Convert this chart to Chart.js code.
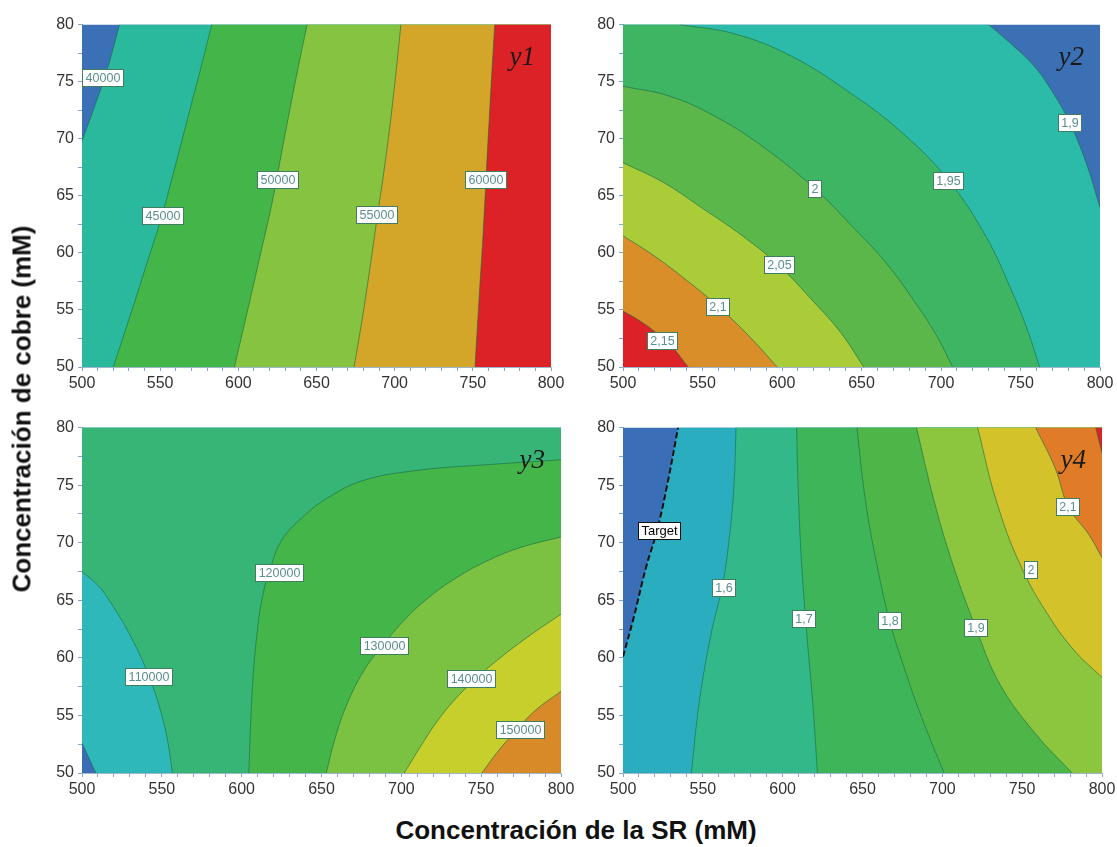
<!DOCTYPE html>
<html lang="es">
<head>
<meta charset="utf-8">
<title>Superficies de contorno y1 - y4</title>
<script src="https://cdn.jsdelivr.net/npm/chart.js@4.4.1/dist/chart.umd.min.js"></script>
<style>
  body { margin: 0; background: #fff; }
  #wrap { position: relative; width: 1117px; height: 847px; overflow: hidden;
          font-family: "Liberation Sans", Arial, sans-serif; }
  canvas { position: absolute; }
  .axtitle { position: absolute; font-weight: bold; font-size: 26px; color: #111; white-space: nowrap; }
  #ytitle { left: 22px; top: 409px; transform: translate(-50%, -50%) rotate(-90deg); }
  #xtitle { left: 576px; top: 830px; transform: translate(-50%, -50%); }
</style>
</head>
<body>
<div id="wrap">
  <canvas id="c1"></canvas>
  <canvas id="c2"></canvas>
  <canvas id="c3"></canvas>
  <canvas id="c4"></canvas>
  <div class="axtitle" id="ytitle">Concentración de cobre (mM)</div>
  <div class="axtitle" id="xtitle">Concentración de la SR (mM)</div>
</div>
<script>
// ejes comunes
const xMin = 500, xMax = 800, yMin = 50, yMax = 80;
const xTickLabels = [500, 550, 600, 650, 700, 750, 800];
const yTickLabels = [50, 55, 60, 65, 70, 75, 80];

// ---- y1 ----
const y1Colors = ['#3b6fb6', '#2bb99e', '#43b549', '#86c340', '#d3a629', '#dc2226'];
const y1Contours = [
  [[500, 69.8], [508, 72.8], [516, 76], [524, 80]],
  [[520, 50], [532, 55], [542, 59.3], [551, 63.2], [560, 67.8], [568, 72], [576, 76.2], [583, 80]],
  [[597.5, 50], [606, 55], [614, 59.8], [621, 64], [627, 68.3], [633, 72.6], [638.5, 76.4], [644, 80]],
  [[674, 50], [679, 54], [684, 58.5], [689, 63.3], [694, 68], [699, 73.5], [704, 80]],
  [[751.4, 50], [754, 56], [756.5, 61.5], [758.4, 66.4], [761, 73], [764, 80]]
];
const y1Closing = [['TR', 'BR', 'BL'], ['TR', 'BR'], ['TR', 'BR'], ['TR', 'BR'], ['TR', 'BR']];
const y1Labels = ['40000', '45000', '50000', '55000', '60000'];
const y1LabelPos = [[513.5, 75.3], [551.5, 63.2], [625.4, 66.4], [688.6, 63.3], [758.4, 66.4]];

// ---- y2 ----
const y2Colors = ['#3b70b5', '#2cbaa9', '#3eb562', '#5bb749', '#a9cc38', '#d98e29', '#dc2226'];
const y2Contours = [
  [[730, 80], [745, 78.2], [759, 76.3], [771, 73.9], [781, 71.4], [791, 68], [800, 64]],
  [[536, 80], [570, 79.2], [605, 77.3], [640, 74.3], [675, 70.6], [705, 66.3], [728, 61.5], [745, 56.5], [755, 53], [762, 50]],
  [[500, 74.6], [530, 73.7], [560, 71.8], [590, 69.1], [620.8, 65.6], [645, 62.2], [665, 59.2], [683, 55.8], [697, 52.8], [707.3, 50]],
  [[500, 67.9], [525, 66.2], [550, 63.9], [575, 61.5], [598, 58.9], [620, 55.7], [637, 53], [651.4, 50]],
  [[500, 61.5], [520, 59.7], [540, 57.6], [560, 55.3], [580, 52.6], [597, 50]],
  [[500, 54.9], [510, 54.1], [520, 53.1], [530, 51.9], [541, 50]]
];
const y2Closing = [['BR', 'BL', 'TL'], ['BL', 'TL'], ['BL'], ['BL'], ['BL'], ['BL']];
const y2Labels = ['1,9', '1,95', '2', '2,05', '2,1', '2,15'];
const y2LabelPos = [[781, 71.4], [705, 66.3], [620.8, 65.6], [598.3, 58.9], [559.9, 55.3], [524.8, 52.3]];

// ---- y3 ----
const y3Colors = ['#3a6cb6', '#2fb8b9', '#37b577', '#44b548', '#7bc142', '#c6cf2b', '#d98a28'];
const y3Contours = [
  [[500, 52.6], [508.7, 50]],
  [[500, 67.5], [510, 66.3], [517, 65], [530, 62], [542.2, 58.3], [550, 55], [554, 52.5], [556.6, 50]],
  [[604.5, 50], [605.5, 54], [607, 58], [609.5, 62], [613, 65.3], [618, 67.8], [625, 70.2], [638, 72.2], [654, 73.9], [676, 75.4], [711, 76.3], [756, 76.8], [800, 77.2]],
  [[653, 50], [658.5, 53], [666, 56], [677, 59], [688, 61], [700, 63], [715, 65], [735, 67], [755, 68.5], [775, 69.6], [800, 70.5]],
  [[701.9, 50], [712, 52.3], [722, 54.4], [733, 56.3], [746, 58.1], [761, 59.9], [779, 61.8], [800, 63.8]],
  [[750.5, 50], [760, 51.8], [770, 53.4], [783.6, 55.4], [800, 57.1]]
];
const y3Closing = [['BR', 'TR', 'TL'], ['BR', 'TR', 'TL'], ['BR'], ['BR'], ['BR'], ['BR']];
const y3Labels = ['110000', '120000', '130000', '140000', '150000'];
const y3LabelPos = [[542.2, 58.3], [623.9, 67.4], [689.6, 61], [744, 58.2], [774.4, 53.7]];

// ---- y4 ---- (primera curva = Target, discontinua)
const y4Colors = ['#3a6fb8', '#2aaebf', '#33b88a', '#3fb55a', '#4eb649', '#8cc63f', '#d3c22a', '#e07b28', '#dc2226'];
const y4Contours = [
  [[500, 60.1], [506.7, 63.5], [514.5, 67.9], [521.2, 71], [527.8, 75.1], [534.5, 80]],
  [[542.8, 50], [547.9, 56.3], [555.2, 62.1], [562.4, 66.4], [566.8, 70.7], [569.5, 75], [570.8, 80]],
  [[621.8, 50], [618.7, 56.3], [615.1, 62.1], [612, 67.9], [610, 73.6], [608.7, 80]],
  [[701.1, 50], [687.1, 54.8], [676, 59.2], [667, 63.2], [659.3, 67.9], [651.9, 73.6], [646.5, 80]],
  [[781.3, 50], [758.4, 53.4], [736.1, 57.7], [721, 62.6], [707.1, 67.9], [694.9, 73.6], [683.8, 80]],
  [[722.1, 80], [733.9, 73.6], [749.4, 67.9], [767.3, 63.5], [782.9, 60.6], [800, 58.3]],
  [[758.4, 80], [770.6, 76.5], [779, 73.1], [791.8, 70.7], [800, 68.7]],
  [[796, 80], [800, 77.8]]
];
const y4Closing = [['TR', 'BR', 'BL'], ['TR', 'BR'], ['TR', 'BR'], ['TR', 'BR'], ['TR', 'BR'], ['TR'], ['TR'], ['TR']];
const y4Labels = ['Target', '1,6', '1,7', '1,8', '1,9', '2', '2,1'];
const y4LabelPos = [[522.8, 71], [563.5, 66.1], [613.6, 63.4], [667, 63.2], [721, 62.6], [755.7, 67.6], [779, 73.1]];

// cajas del área de trazado (px)
const plotBoxes = [[82, 23, 551, 367], [623, 23, 1100, 367], [82, 426, 561, 773], [623, 426, 1102, 773]];
const padL = 55, padT = 12, padR = 25, padB = 32;
const curveTension = 0.4;

function corner(k) {
  return { TL: { x: xMin, y: yMax }, TR: { x: xMax, y: yMax }, BR: { x: xMax, y: yMin }, BL: { x: xMin, y: yMin } }[k];
}
function pts(arr) { return arr.map(p => ({ x: p[0], y: p[1] })); }

// polígono: curva + esquinas; puntos repetidos para que las esquinas queden rectas con tension
function region(c, corners) {
  const line = pts(c);
  const poly = line.concat([line[line.length - 1]]);
  corners.forEach(k => { poly.push(corner(k), corner(k)); });
  return poly;
}

function labelPlugin(texts, pos, title) {
  return {
    id: 'contourLabels',
    afterDatasetsDraw(chart) {
      const ctx = chart.ctx, xs = chart.scales.x, ys = chart.scales.y, area = chart.chartArea;
      ctx.save();
      ctx.textAlign = 'center';
      ctx.textBaseline = 'middle';
      texts.forEach((t, i) => {
        const target = t === 'Target';
        ctx.font = (target ? '13px' : '12.5px') + ' "Liberation Sans", Arial, sans-serif';
        const px = xs.getPixelForValue(pos[i][0]), py = ys.getPixelForValue(pos[i][1]);
        const w = Math.round(ctx.measureText(t).width + 7), h = 18;
        const bx = Math.round(px - w / 2), by = Math.round(py - h / 2);
        ctx.fillStyle = '#fff';
        ctx.fillRect(bx, by, w, h);
        ctx.strokeStyle = target ? '#111' : '#3d7f5f';
        ctx.lineWidth = 1;
        ctx.strokeRect(bx + 0.5, by + 0.5, w - 1, h - 1);
        ctx.fillStyle = target ? '#000' : '#5b8e8e';
        ctx.fillText(t, bx + w / 2, by + h / 2 + 0.5);
      });
      ctx.font = 'italic 27px "Liberation Serif", "DejaVu Serif", serif';
      ctx.textAlign = 'right';
      ctx.textBaseline = 'alphabetic';
      ctx.fillStyle = '#1a1a1a';
      ctx.fillText(title, area.right - 16, area.top + 40);
      ctx.restore();
    }
  };
}

function makePanel(idx, colors, contours, closing, texts, pos, title, dashedFirst) {
  const [l, t, r, b] = plotBoxes[idx];
  const cv = document.getElementById('c' + (idx + 1));
  const W = (r - l) + padL + padR, H = (b - t) + padT + padB;
  cv.width = W; cv.height = H;
  cv.style.left = (l - padL) + 'px';
  cv.style.top = (t - padT) + 'px';
  cv.style.width = W + 'px';
  cv.style.height = H + 'px';

  const datasets = [];
  datasets.push({
    data: ['BL', 'TL', 'TR', 'BR'].map(corner),
    backgroundColor: colors[0], fill: 'shape', borderWidth: 0, pointRadius: 0, tension: 0, order: 100
  });
  contours.forEach((c, i) => {
    datasets.push({
      data: region(c, closing[i]),
      backgroundColor: colors[i + 1], fill: 'shape', borderWidth: 0, pointRadius: 0, order: 99 - i
    });
  });
  contours.forEach((c, i) => {
    const dashed = dashedFirst && i === 0;
    datasets.push({
      data: pts(c),
      borderColor: dashed ? '#111' : 'rgba(25,105,70,0.6)',
      borderWidth: dashed ? 2 : 1,
      borderDash: dashed ? [6, 3] : [],
      fill: false, pointRadius: 0, order: 0
    });
  });

  const tickFont = { size: 16, family: '"Liberation Sans", Arial, sans-serif' };
  new Chart(cv.getContext('2d'), {
    type: 'line',
    data: { datasets },
    options: {
      responsive: false,
      animation: false,
      devicePixelRatio: 1,
      events: [],
      layout: { padding: { left: 0, top: padT, right: padR, bottom: 0 } },
      elements: { line: { tension: curveTension } },
      plugins: { legend: { display: false }, tooltip: { enabled: false } },
      scales: {
        x: {
          type: 'linear', min: xMin, max: xMax,
          afterFit(s) { s.height = padB; },
          ticks: {
            stepSize: 10, maxTicksLimit: 100, autoSkip: false, maxRotation: 0, padding: 3,
            color: '#333', font: tickFont,
            callback: v => xTickLabels.includes(v) ? String(v) : ''
          },
          grid: { drawOnChartArea: false, tickLength: 4, color: '#7fa6cf' },
          border: { color: '#9fb6cc' }
        },
        y: {
          type: 'linear', min: yMin, max: yMax,
          afterFit(s) { s.width = padL; },
          ticks: {
            stepSize: 2.5, maxTicksLimit: 100, autoSkip: false, padding: 4,
            color: '#333', font: tickFont,
            callback: v => yTickLabels.includes(v) ? String(v) : ''
          },
          grid: { drawOnChartArea: false, tickLength: 4, color: '#7fa6cf' },
          border: { color: '#9fb6cc' }
        }
      }
    },
    plugins: [labelPlugin(texts, pos, title)]
  });
}

makePanel(0, y1Colors, y1Contours, y1Closing, y1Labels, y1LabelPos, 'y1', false);
makePanel(1, y2Colors, y2Contours, y2Closing, y2Labels, y2LabelPos, 'y2', false);
makePanel(2, y3Colors, y3Contours, y3Closing, y3Labels, y3LabelPos, 'y3', false);
makePanel(3, y4Colors, y4Contours, y4Closing, y4Labels, y4LabelPos, 'y4', true);
</script>
</body>
</html>
